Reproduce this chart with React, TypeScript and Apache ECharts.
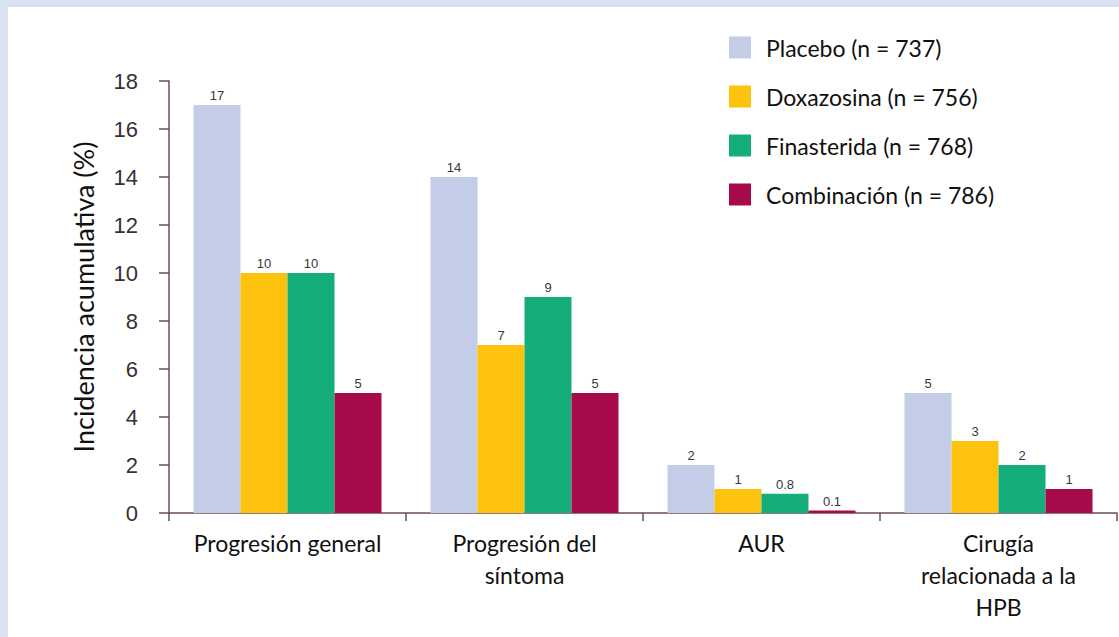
import React, { useEffect, useRef } from "react";
import * as echarts from "echarts";

const categories = [
  "Progresión general",
  "Progresión del\nsíntoma",
  "AUR",
  "Cirugía\nrelacionada a la\nHPB",
];
const seriesNames = [
  "Placebo (n = 737)",
  "Doxazosina (n = 756)",
  "Finasterida (n = 768)",
  "Combinación (n = 786)",
];
const placebo = [17, 14, 2, 5];
const doxazosina = [10, 7, 1, 3];
const finasterida = [10, 9, 0.8, 2];
const combinacion = [5, 5, 0.1, 1];
const colors = ["#c3cde8", "#fcc20e", "#15ae7a", "#a80b4c"];
const yTicks = [0, 2, 4, 6, 8, 10, 12, 14, 16, 18];

const seriesValues = [placebo, doxazosina, finasterida, combinacion];

export default function App() {
  const ref = useRef<HTMLDivElement>(null);

  useEffect(() => {
    if (!ref.current) return;
    const chart = echarts.init(ref.current, undefined, { renderer: "svg" });
    const axisColor = "#6e4a5c";
    chart.setOption({
      animation: false,
      backgroundColor: "#ffffff",
      legend: {
        orient: "vertical",
        left: 721,
        top: 29,
        padding: 0,
        itemWidth: 22,
        itemHeight: 22,
        itemGap: 26,
        icon: "rect",
        data: seriesNames,
        textStyle: {
          fontFamily: "Lato",
          fontSize: 23,
          color: "#111111",
          padding: [0, 0, 0, 10],
        },
      },
      grid: { left: 161, right: 2, top: 74, bottom: 124 },
      xAxis: {
        type: "category",
        data: categories,
        axisLine: { lineStyle: { color: axisColor, width: 1.5 } },
        axisTick: { show: true, length: 8, lineStyle: { color: axisColor, width: 1.5 } },
        axisLabel: {
          interval: 0,
          margin: 14,
          fontFamily: "Lato",
          fontSize: 23,
          lineHeight: 32,
          color: "#111111",
          align: "center",
        },
      },
      yAxis: {
        type: "value",
        min: yTicks[0],
        max: yTicks[yTicks.length - 1],
        interval: 2,
        name: "Incidencia acumulativa (%)",
        nameLocation: "middle",
        nameRotate: 90,
        nameGap: 72,
        nameTextStyle: { fontFamily: "Lato", fontSize: 27, color: "#111111" },
        splitLine: { show: false },
        axisLine: { show: true, lineStyle: { color: axisColor, width: 1.5 } },
        axisTick: { show: true, length: 10, lineStyle: { color: axisColor, width: 1.5 } },
        axisLabel: {
          margin: 31,
          fontFamily: "Liberation Sans",
          fontSize: 22,
          color: "#333333",
        },
      },
      series: seriesNames.map((name, i) => ({
        name,
        type: "bar",
        data: seriesValues[i],
        barWidth: 47,
        barGap: "0%",
        itemStyle: { color: colors[i] },
        label: {
          show: true,
          position: "top",
          distance: 3,
          fontFamily: "Liberation Sans",
          fontSize: 13,
          color: "#3d3340",
        },
      })),
    });
    return () => chart.dispose();
  }, []);

  return (
    <div
      style={{
        position: "absolute",
        left: 0,
        top: 0,
        width: 1119,
        height: 637,
        background: "#d8e2f0",
      }}
    >
      <div
        ref={ref}
        style={{ position: "absolute", left: 8, top: 7, width: 1111, height: 630 }}
      />
    </div>
  );
}
